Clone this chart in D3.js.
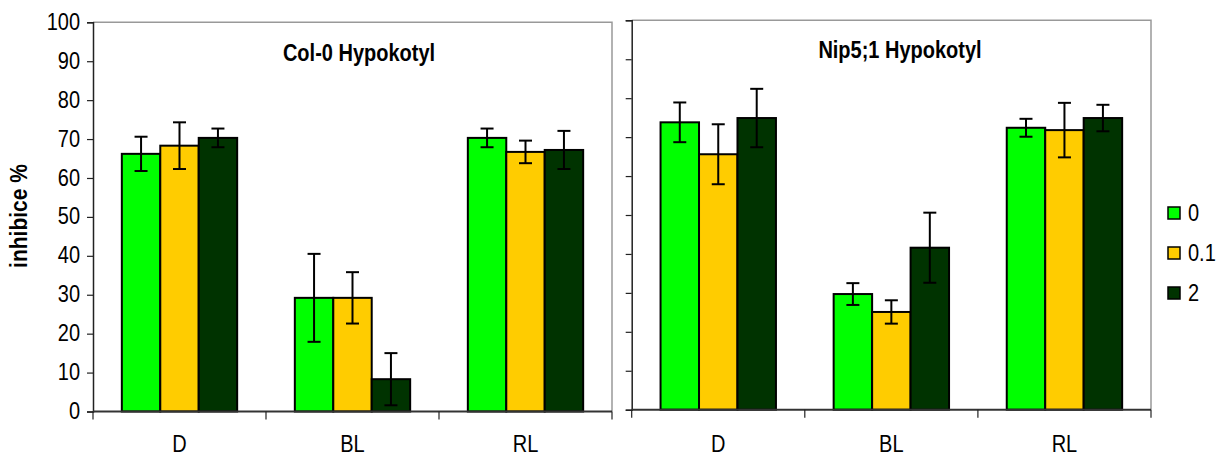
<!DOCTYPE html>
<html>
<head>
<meta charset="utf-8">
<script src="https://cdn.jsdelivr.net/npm/d3@7"></script>
<style>
  body { margin: 0; background: #fff; }
  text { font-family: Arial, "Liberation Sans", sans-serif; }
</style>
</head>
<body>
<div id="chart"></div>
<script>
const width = 1218;
const height = 457;

const categories = ["D", "BL", "RL"];
const series = ["0", "0.1", "2"];
const colors = ["#00ff00", "#ffcc00", "#003300"];
const yTicks = [0, 10, 20, 30, 40, 50, 60, 70, 80, 90, 100];

// means per category, one value per series (0, 0.1, 2)
const colMeans = [[66.2, 68.3, 70.3], [29.2, 29.2, 8.3], [70.3, 66.7, 67.2]];
const colErrors = [[4.4, 6.0, 2.4], [11.3, 6.6, 6.7], [2.4, 2.9, 4.9]];
const nipMeans = [[73.8, 65.6, 74.9], [29.7, 25.1, 41.6], [72.4, 71.8, 74.9]];
const nipErrors = [[5.1, 7.7, 7.5], [2.8, 3.0, 9.0], [2.3, 7.0, 3.4]];

const stretch = 1.18; // text in the source is a bit taller than wide

const svg = d3.select("#chart")
    .append("svg")
    .attr("width", width)
    .attr("height", height);

function tallText(sel, x, y) {
    return sel.attr("transform", `translate(${x},${y}) scale(1,${stretch})`);
}

function drawPanel(opts) {
    const x = d3.scaleBand().domain(categories).range([opts.left, opts.right]);
    const xs = d3.scaleBand().domain(series).range([0, x.bandwidth()]).paddingOuter(0.75);
    const y = d3.scaleLinear().domain([0, 100]).range([opts.bottom, opts.top]);

    const g = svg.append("g");

    // plot frame (top + right in grey)
    g.append("path")
        .attr("d", `M${opts.left},${opts.top}H${opts.right}V${opts.bottom}`)
        .attr("fill", "none")
        .attr("stroke", "#999")
        .attr("stroke-width", 1.5);

    // y axis
    const yAxis = d3.axisLeft(y).tickValues(yTicks).tickSize(6).tickPadding(7)
        .tickFormat(opts.labels ? d3.format("d") : "");
    const ya = g.append("g").attr("transform", `translate(${opts.left},0)`).call(yAxis);
    ya.select(".domain").attr("stroke", "#222").attr("stroke-width", 1.5);
    ya.selectAll(".tick line").attr("stroke", "#222").attr("stroke-width", 1.2);
    ya.selectAll(".tick text").attr("font-size", 20).attr("fill", "#000")
        .attr("dy", "0.3em")
        .attr("transform", `scale(1,${stretch})`);

    // bars
    const groups = g.selectAll(".grp")
        .data(opts.means)
        .enter().append("g")
        .attr("transform", (d, i) => `translate(${x(categories[i])},0)`);

    groups.selectAll("rect")
        .data((d, i) => d.map((v, j) => ({ v: v, s: series[j], c: colors[j] })))
        .enter().append("rect")
        .attr("x", d => xs(d.s))
        .attr("width", xs.bandwidth())
        .attr("y", d => y(d.v))
        .attr("height", d => y(0) - y(d.v))
        .attr("fill", d => d.c)
        .attr("stroke", "#000")
        .attr("stroke-width", 2);

    // error bars
    const err = groups.selectAll(".err")
        .data((d, i) => d.map((v, j) => ({ v: v, e: opts.errors[i][j], s: series[j] })))
        .enter().append("g")
        .attr("stroke", "#000")
        .attr("stroke-width", 2);
    const cx = d => xs(d.s) + xs.bandwidth() / 2;
    err.append("line")
        .attr("x1", cx).attr("x2", cx)
        .attr("y1", d => y(d.v + d.e)).attr("y2", d => y(d.v - d.e));
    err.append("line")
        .attr("x1", d => cx(d) - 6.5).attr("x2", d => cx(d) + 6.5)
        .attr("y1", d => y(d.v + d.e)).attr("y2", d => y(d.v + d.e));
    err.append("line")
        .attr("x1", d => cx(d) - 6.5).attr("x2", d => cx(d) + 6.5)
        .attr("y1", d => y(d.v - d.e)).attr("y2", d => y(d.v - d.e));

    // x axis: ticks on category boundaries
    g.append("line")
        .attr("x1", opts.left).attr("x2", opts.right)
        .attr("y1", y(0)).attr("y2", y(0))
        .attr("stroke", "#333").attr("stroke-width", 2);
    const bounds = categories.map(c => x(c)).concat([opts.right]);
    g.selectAll(".xt")
        .data(bounds)
        .enter().append("line")
        .attr("x1", d => d).attr("x2", d => d)
        .attr("y1", y(0)).attr("y2", y(0) + 8)
        .attr("stroke", "#222").attr("stroke-width", 1.2);
    g.selectAll(".xl")
        .data(categories)
        .enter().append("text")
        .each(function (d) { tallText(d3.select(this), x(d) + x.bandwidth() / 2, 452); })
        .attr("text-anchor", "middle")
        .attr("font-size", 20)
        .text(d => d);

    // panel title
    tallText(g.append("text"), opts.titleX, opts.titleY)
        .attr("text-anchor", "middle")
        .attr("font-size", 20)
        .attr("font-weight", "bold")
        .text(opts.title);
}

drawPanel({ left: 93, right: 612, top: 22.3, bottom: 411.5, labels: true,
    means: colMeans, errors: colErrors, title: "Col-0 Hypokotyl", titleX: 359, titleY: 61 });
drawPanel({ left: 631.7, right: 1151, top: 20.3, bottom: 409.7, labels: false,
    means: nipMeans, errors: nipErrors, title: "Nip5;1 Hypokotyl", titleX: 900, titleY: 58 });

// y axis title
svg.append("text")
    .attr("transform", `translate(27,216) rotate(-90) scale(1,${stretch})`)
    .attr("text-anchor", "middle")
    .attr("font-size", 21)
    .attr("font-weight", "bold")
    .text("inhibice %");

// legend
const legend = svg.append("g").attr("transform", "translate(1168,207)");
const items = legend.selectAll("g")
    .data(series)
    .enter().append("g")
    .attr("transform", (d, i) => `translate(0,${i * 40})`);
items.append("rect")
    .attr("width", 12).attr("height", 12)
    .attr("fill", (d, i) => colors[i])
    .attr("stroke", "#000").attr("stroke-width", 1.5);
items.append("text")
    .each(function () { tallText(d3.select(this), 20, 13.5); })
    .attr("font-size", 20)
    .text(d => d);
</script>
</body>
</html>
